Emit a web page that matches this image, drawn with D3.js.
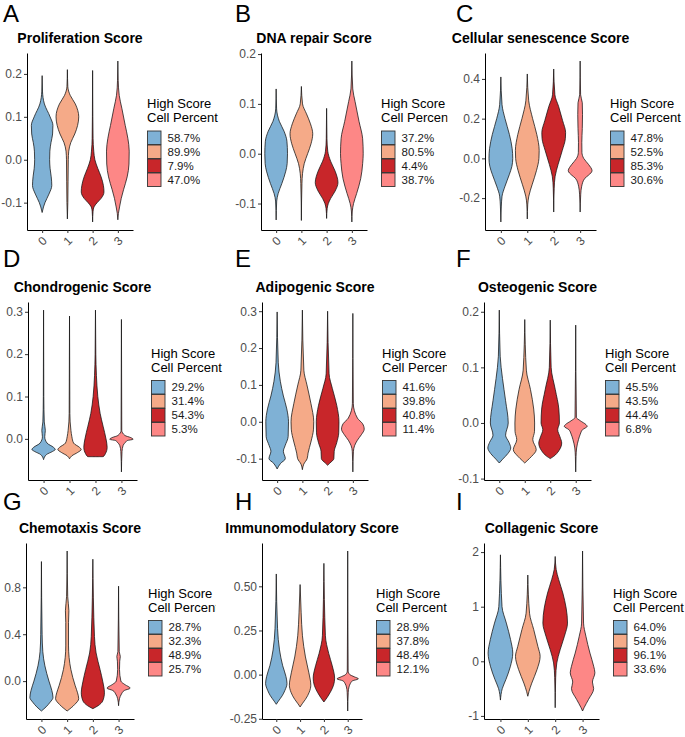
<!DOCTYPE html>
<html><head><meta charset="utf-8">
<script src="https://cdn.jsdelivr.net/npm/d3@7"></script>
<style>body{margin:0;background:#fff}svg{display:block;font-family:"Liberation Sans",Arial,sans-serif}</style>
</head><body><svg id="c" width="685" height="737"></svg>
<script>
// ---------- DATA ----------
const clusters = ["0", "1", "2", "3"];
const panelLetters = ["A", "B", "C", "D", "E", "F", "G", "H", "I"];
const panelTitles = ["Proliferation Score", "DNA repair Score", "Cellular senescence Score",
  "Chondrogenic Score", "Adipogenic Score", "Osteogenic Score",
  "Chemotaxis Score", "Immunomodulatory Score", "Collagenic Score"];
const legendTitle = ["High Score", "Cell Percent"];
const highScorePercent = [
  ["58.7%", "89.9%", "7.9%", "47.0%"],
  ["37.2%", "80.5%", "4.4%", "38.7%"],
  ["47.8%", "52.5%", "85.3%", "30.6%"],
  ["29.2%", "31.4%", "54.3%", "5.3%"],
  ["41.6%", "39.8%", "40.8%", "11.4%"],
  ["45.5%", "43.5%", "44.4%", "6.8%"],
  ["28.7%", "32.3%", "48.9%", "25.7%"],
  ["28.9%", "37.8%", "48.4%", "12.1%"],
  ["64.0%", "54.0%", "96.1%", "33.6%"]
];
const yTickValues = [
  [-0.1, 0, 0.1, 0.2], [-0.1, 0, 0.1, 0.2], [-0.2, 0, 0.2, 0.4],
  [0, 0.1, 0.2, 0.3], [-0.1, 0, 0.1, 0.2, 0.3], [-0.1, 0, 0.1, 0.2],
  [0, 0.4, 0.8], [-0.25, 0, 0.25, 0.5], [-1, 0, 1, 2]
];
const yTickLabels = [
  ["-0.1", "0.0", "0.1", "0.2"], ["-0.1", "0.0", "0.1", "0.2"], ["-0.2", "0.0", "0.2", "0.4"],
  ["0.0", "0.1", "0.2", "0.3"], ["-0.1", "0.0", "0.1", "0.2", "0.3"], ["-0.1", "0.0", "0.1", "0.2"],
  ["0.0", "0.4", "0.8"], ["-0.25", "0.00", "0.25", "0.50"], ["-1", "0", "1", "2"]
];

// violin profiles per cluster: [score value, relative density half-width]
const proliferation = [
  [[0.196,0],[0.16,0.03],[0.13,0.2],[0.1,0.7],[0.08,0.95],[0.06,0.92],[0.04,0.78],[0.02,0.68],[0.0,0.66],[-0.02,0.7],[-0.04,0.8],[-0.06,0.85],[-0.08,0.6],[-0.1,0.25],[-0.11,0.12],[-0.123,0]],
  [[0.21,0],[0.17,0.04],[0.15,0.25],[0.13,0.7],[0.1,1.0],[0.08,0.9],[0.06,0.65],[0.04,0.3],[0.02,0.12],[0.0,0.08],[-0.05,0.06],[-0.1,0.04],[-0.138,0]],
  [[0.208,0],[0.1,0.02],[0.05,0.04],[0.02,0.1],[0.0,0.2],[-0.02,0.45],[-0.04,0.75],[-0.06,0.95],[-0.075,1.0],[-0.09,0.75],[-0.1,0.4],[-0.11,0.12],[-0.12,0.04],[-0.145,0]],
  [[0.23,0],[0.185,0.03],[0.15,0.12],[0.12,0.35],[0.08,0.65],[0.05,0.88],[0.02,1.0],[-0.01,0.98],[-0.04,0.82],[-0.07,0.5],[-0.09,0.3],[-0.11,0.15],[-0.125,0.05],[-0.14,0]]
];
const dnaRepair = [
  [[0.13,0],[0.09,0.04],[0.065,0.28],[0.045,0.7],[0.025,0.95],[0.0,1.0],[-0.02,0.97],[-0.035,0.85],[-0.06,0.5],[-0.08,0.18],[-0.095,0.05],[-0.133,0]],
  [[0.135,0],[0.1,0.1],[0.08,0.45],[0.06,0.8],[0.04,1.0],[0.02,0.85],[0.0,0.55],[-0.02,0.25],[-0.04,0.1],[-0.06,0.05],[-0.134,0]],
  [[0.091,0],[0.03,0.03],[0.005,0.1],[-0.015,0.35],[-0.035,0.75],[-0.058,1.0],[-0.075,0.75],[-0.09,0.35],[-0.1,0.15],[-0.11,0.05],[-0.13,0]],
  [[0.186,0],[0.13,0.08],[0.105,0.28],[0.065,0.63],[0.03,0.95],[0.0,1.0],[-0.02,0.95],[-0.05,0.78],[-0.08,0.42],[-0.1,0.15],[-0.115,0.04],[-0.137,0]]
];
const senescence = [
  [[0.41,0],[0.27,0.1],[0.2,0.35],[0.12,0.72],[0.05,0.95],[0.0,1.0],[-0.04,0.93],[-0.08,0.72],[-0.14,0.35],[-0.19,0.1],[-0.24,0.04],[-0.32,0]],
  [[0.425,0],[0.29,0.12],[0.2,0.45],[0.12,0.8],[0.04,1.0],[0.0,0.98],[-0.06,0.78],[-0.13,0.42],[-0.19,0.13],[-0.23,0.04],[-0.305,0]],
  [[0.45,0],[0.32,0.1],[0.26,0.42],[0.19,0.75],[0.13,1.0],[0.1,0.98],[0.04,0.72],[-0.03,0.37],[-0.09,0.12],[-0.15,0.04],[-0.27,0]],
  [[0.49,0],[0.32,0.04],[0.28,0.18],[0.22,0.2],[0.15,0.18],[0.08,0.14],[0.03,0.15],[0.0,0.3],[-0.03,0.7],[-0.062,1.0],[-0.085,0.7],[-0.1,0.4],[-0.14,0.13],[-0.18,0.05],[-0.27,0]]
];
const chondrogenic = [
  [[0.304,0],[0.1,0.02],[0.04,0.06],[0.02,0.15],[0.005,0.1],[-0.01,0.3],[-0.02,0.85],[-0.025,1.0],[-0.03,0.75],[-0.037,0.25],[-0.049,0]],
  [[0.29,0],[0.06,0.03],[0.02,0.12],[0.005,0.2],[-0.01,0.35],[-0.02,0.85],[-0.025,1.0],[-0.032,0.7],[-0.04,0.2],[-0.047,0]],
  [[0.304,0],[0.2,0.03],[0.15,0.08],[0.1,0.2],[0.06,0.4],[0.03,0.65],[0.0,0.9],[-0.02,1.0],[-0.035,0.85],[-0.042,0.65],[-0.0421,0]],
  [[0.282,0],[0.02,0.03],[0.008,0.3],[0.003,0.8],[-0.001,1.0],[-0.004,0.5],[-0.008,0.35],[-0.015,0.15],[-0.03,0.05],[-0.078,0]]
];
const adipogenic = [
  [[0.298,0],[0.16,0.1],[0.11,0.28],[0.07,0.55],[0.035,0.85],[0.0,1.0],[-0.04,0.97],[-0.065,0.7],[-0.08,0.55],[-0.1,0.72],[-0.113,0.3],[-0.128,0]],
  [[0.303,0],[0.14,0.13],[0.1,0.4],[0.05,0.75],[0.0,1.0],[-0.02,0.98],[-0.055,0.75],[-0.085,0.5],[-0.1,0.42],[-0.115,0.12],[-0.13,0]],
  [[0.3,0],[0.13,0.13],[0.09,0.42],[0.045,0.8],[0.0,1.0],[-0.03,0.98],[-0.057,0.8],[-0.08,0.58],[-0.1,0.55],[-0.112,0.2],[-0.118,0]],
  [[0.294,0],[0.05,0.04],[0.01,0.4],[-0.005,0.85],[-0.02,1.0],[-0.035,0.75],[-0.05,0.4],[-0.065,0.15],[-0.08,0.05],[-0.136,0]]
];
const osteogenic = [
  [[0.203,0],[0.12,0.08],[0.08,0.28],[0.04,0.55],[0.0,0.78],[-0.022,0.55],[-0.035,0.85],[-0.045,1.0],[-0.055,0.75],[-0.065,0.3],[-0.072,0]],
  [[0.186,0],[0.095,0.14],[0.06,0.5],[0.025,0.78],[0.0,0.86],[-0.015,0.85],[-0.03,0.7],[-0.048,1.0],[-0.06,0.6],[-0.068,0.2],[-0.072,0]],
  [[0.185,0],[0.1,0.08],[0.06,0.44],[0.025,0.75],[0.0,0.8],[-0.012,0.65],[-0.025,0.85],[-0.036,1.0],[-0.05,0.75],[-0.06,0.3],[-0.064,0]],
  [[0.176,0],[0.01,0.06],[0.004,0.4],[-0.003,0.9],[-0.006,1.0],[-0.012,0.6],[-0.02,0.4],[-0.03,0.24],[-0.045,0.08],[-0.06,0.03],[-0.088,0]]
];
const chemotaxis = [
  [[1.02,0],[0.4,0.06],[0.25,0.12],[0.13,0.3],[0.0,0.65],[-0.08,0.9],[-0.14,1.0],[-0.18,0.75],[-0.22,0.4],[-0.255,0]],
  [[1.11,0],[0.72,0.05],[0.6,0.15],[0.5,0.12],[0.3,0.12],[0.1,0.32],[-0.04,0.7],[-0.1,0.9],[-0.15,1.0],[-0.2,0.65],[-0.255,0]],
  [[1.04,0],[0.38,0.14],[0.24,0.28],[0.1,0.62],[0.0,0.85],[-0.1,1.0],[-0.17,0.85],[-0.21,0.45],[-0.235,0]],
  [[0.81,0],[0.25,0.06],[0.21,0.15],[0.17,0.1],[0.1,0.08],[0.0,0.2],[-0.03,0.55],[-0.06,1.0],[-0.08,0.5],[-0.11,0.25],[-0.15,0.08],[-0.21,0]]
];
const immunomodulatory = [
  [[0.57,0],[0.26,0.12],[0.14,0.3],[0.05,0.6],[-0.01,0.9],[-0.05,1.0],[-0.09,0.8],[-0.12,0.55],[-0.15,0.2],[-0.168,0]],
  [[0.51,0],[0.35,0.1],[0.22,0.22],[0.1,0.5],[0.01,0.82],[-0.06,1.0],[-0.1,0.85],[-0.14,0.5],[-0.165,0.2],[-0.183,0]],
  [[0.63,0],[0.22,0.14],[0.12,0.45],[0.05,0.78],[-0.02,1.0],[-0.06,0.9],[-0.1,0.6],[-0.13,0.3],[-0.155,0]],
  [[0.70,0],[0.02,0.04],[0.0,0.2],[-0.012,0.6],[-0.024,1.0],[-0.035,0.45],[-0.05,0.25],[-0.07,0.12],[-0.1,0.05],[-0.206,0]]
];
const collagenic = [
  [[1.95,0],[1.0,0.13],[0.7,0.48],[0.4,0.82],[0.15,1.0],[-0.1,0.8],[-0.33,0.45],[-0.5,0.15],[-0.71,0]],
  [[1.58,0],[0.88,0.14],[0.58,0.48],[0.27,0.82],[0.09,1.0],[-0.15,0.75],[-0.4,0.32],[-0.55,0.1],[-0.64,0]],
  [[1.92,0],[1.68,0.08],[1.5,0.28],[1.25,0.62],[0.7,1.0],[0.46,0.75],[0.21,0.4],[-0.03,0.13],[-0.3,0.04],[-0.85,0]],
  [[2.02,0],[0.7,0.08],[0.46,0.27],[0.15,0.6],[-0.09,0.9],[-0.21,1.0],[-0.38,0.8],[-0.5,0.9],[-0.7,0.48],[-0.85,0.12],[-0.91,0]]
];
const violinData = [proliferation, dnaRepair, senescence, chondrogenic, adipogenic,
  osteogenic, chemotaxis, immunomodulatory, collagenic];

// ---------- STYLE / LAYOUT ----------
const clusterColors = ["#7FB1D5", "#F5AA88", "#C8262A", "#FD8786"];
// [x0, x1, top, bottom] of each plotting panel
const panelBoxes = [
  [27, 133, 53, 230], [261, 367, 53, 230], [485, 596, 53, 230],
  [28, 137, 302, 480], [262, 368, 302, 480], [484, 591, 302, 480],
  [26, 134, 543, 719], [262, 362, 543, 719], [484, 599, 543, 719]
];
const legendClipX = [null, 447.5, null, null, 447, null, 215.5, null, null];
const letterX = [3, 235, 456];
const letterBaseline = [22, 267, 510];

const svg = d3.select("#c");
const defs = svg.append("defs");

violinData.forEach((profiles, i) => {
  const [x0, x1, top, bottom] = panelBoxes[i];
  const row = Math.floor(i / 3), col = i % 3;
  const vmin = d3.min(profiles, p => d3.min(p, d => d[0]));
  const vmax = d3.max(profiles, p => d3.max(p, d => d[0]));
  const pad = (vmax - vmin) * 0.05;
  const y = d3.scaleLinear().domain([vmin - pad, vmax + pad]).range([bottom, top]);
  const x = d3.scalePoint().domain(clusters).range([x0, x1]).padding(0.6);
  const hw = 0.45 * x.step();
  const g = svg.append("g");

  // panel letter
  svg.append("text").attr("x", letterX[col]).attr("y", letterBaseline[row])
    .attr("font-size", 24).attr("fill", "#000").text(panelLetters[i]);
  // title
  g.append("text").attr("x", (x0 + x1) / 2).attr("y", top - 10.5)
    .attr("text-anchor", "middle").attr("font-size", 14).attr("font-weight", "bold")
    .attr("fill", "#000").text(panelTitles[i]);

  // violins
  profiles.forEach((prof, j) => {
    const cx = x(clusters[j]);
    const area = d3.area()
      .y(d => y(d[0]))
      .x0(d => cx - d[1] * hw)
      .x1(d => cx + d[1] * hw)
      .curve(d3.curveMonotoneY);
    g.append("path").attr("d", area(prof))
      .attr("fill", clusterColors[j]).attr("stroke", "#111").attr("stroke-width", 0.75);
  });

  // y axis
  const ya = g.append("g").attr("transform", `translate(${x0},0)`)
    .call(d3.axisLeft(y).tickValues(yTickValues[i]).tickFormat((d, k) => yTickLabels[i][k])
      .tickSize(3).tickSizeOuter(0).tickPadding(2));
  ya.select(".domain").attr("stroke", "#000").attr("stroke-width", 1);
  ya.selectAll(".tick line").attr("stroke", "#333");
  ya.selectAll(".tick text").attr("fill", "#4d4d4d").attr("font-size", 12)
    .attr("font-family", "Liberation Sans, Arial, sans-serif");

  // x axis
  const xa = g.append("g").attr("transform", `translate(0,${bottom})`)
    .call(d3.axisBottom(x).tickSize(3).tickSizeOuter(0));
  xa.select(".domain").attr("stroke", "#000").attr("stroke-width", 1);
  xa.selectAll(".tick line").attr("stroke", "#333");
  xa.selectAll(".tick text").attr("fill", "#4d4d4d").attr("font-size", 12)
    .attr("font-family", "Liberation Sans, Arial, sans-serif")
    .attr("y", 0).attr("dy", null)
    .attr("text-anchor", "middle").attr("dominant-baseline", "central")
    .attr("transform", "translate(0,11) rotate(-45)");

  // legend
  const lg = svg.append("g");
  if (legendClipX[i] !== null) {
    const id = "clip" + i;
    defs.append("clipPath").attr("id", id).append("rect")
      .attr("x", 0).attr("y", 0).attr("width", legendClipX[i]).attr("height", 737);
    lg.attr("clip-path", `url(#${id})`);
  }
  const lx = x1 + 14;
  const keysTop = (top + bottom) / 2 - 11;
  legendTitle.forEach((t, k) => {
    lg.append("text").attr("x", lx).attr("y", keysTop - 27 + k * 14 + 4.6)
      .attr("font-size", 13).attr("fill", "#000").text(t);
  });
  clusters.forEach((c, j) => {
    lg.append("rect").attr("x", lx + 0.5).attr("y", keysTop + j * 14 + 0.5)
      .attr("width", 13.5).attr("height", 13.5)
      .attr("fill", clusterColors[j]).attr("stroke", "#333").attr("stroke-width", 0.9);
    lg.append("text").attr("x", lx + 20.5).attr("y", keysTop + j * 14 + 7 + 4.2)
      .attr("font-size", 11.5).attr("fill", "#1a1a1a").text(highScorePercent[i][j]);
  });
});
</script></body></html>
